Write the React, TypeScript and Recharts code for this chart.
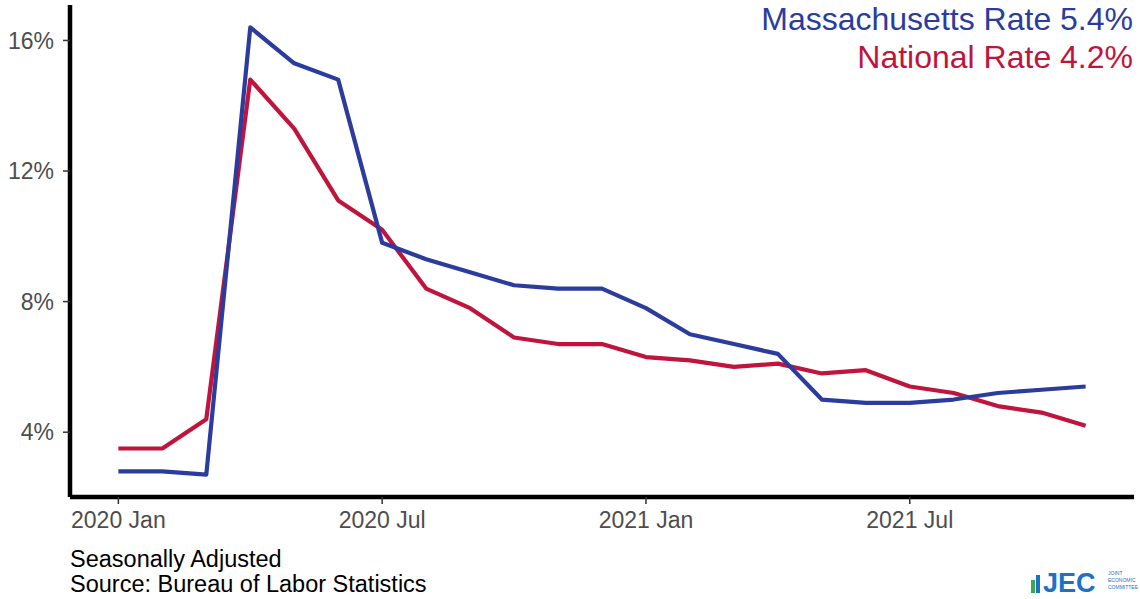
import { LineChart, Line, XAxis, YAxis } from "recharts";

const MONTHS = [
  "2020 Jan", "2020 Feb", "2020 Mar", "2020 Apr", "2020 May", "2020 Jun",
  "2020 Jul", "2020 Aug", "2020 Sep", "2020 Oct", "2020 Nov", "2020 Dec",
  "2021 Jan", "2021 Feb", "2021 Mar", "2021 Apr", "2021 May", "2021 Jun",
  "2021 Jul", "2021 Aug", "2021 Sep", "2021 Oct", "2021 Nov",
];

const MASSACHUSETTS = [
  2.8, 2.8, 2.7, 16.4, 15.3, 14.8, 9.8, 9.3, 8.9, 8.5, 8.4, 8.4,
  7.8, 7.0, 6.7, 6.4, 5.0, 4.9, 4.9, 5.0, 5.2, 5.3, 5.4,
];

const NATIONAL = [
  3.5, 3.5, 4.4, 14.8, 13.3, 11.1, 10.2, 8.4, 7.8, 6.9, 6.7, 6.7,
  6.3, 6.2, 6.0, 6.1, 5.8, 5.9, 5.4, 5.2, 4.8, 4.6, 4.2,
];

const X_TICKS = [0, 6, 12, 18];
const X_TICK_LABELS = ["2020 Jan", "2020 Jul", "2021 Jan", "2021 Jul"];
const Y_TICKS = [4, 8, 12, 16];

const BLUE = "#2B3C9E";
const RED = "#C0143C";
const FONT = "'Liberation Sans', Arial, sans-serif";

const data = MONTHS.map((m, i) => ({
  i,
  month: m,
  ma: MASSACHUSETTS[i],
  us: NATIONAL[i],
}));

const tickStyle = { fill: "#4D4D4D", fontSize: 23, fontFamily: FONT };

export default function App() {
  return (
    <div style={{ position: "absolute", left: 0, top: 0, width: 1140, height: 599, background: "#fff", overflow: "hidden" }}>
      <LineChart width={1140} height={599} data={data} margin={{ top: 5, right: 6, left: 0, bottom: 62 }}>
        <XAxis
          dataKey="i"
          type="number"
          domain={[-1.1, 23.1]}
          ticks={X_TICKS}
          tickFormatter={(v) => X_TICK_LABELS[X_TICKS.indexOf(v)] ?? ""}
          allowDataOverflow
          height={40}
          axisLine={{ stroke: "#000", strokeWidth: 4.5 }}
          tickLine={{ stroke: "#333", strokeWidth: 1.5 }}
          tickSize={7}
          tickMargin={8}
          tick={tickStyle}
        />
        <YAxis
          type="number"
          domain={[2.015, 17.085]}
          ticks={Y_TICKS}
          tickFormatter={(v) => `${v}%`}
          allowDataOverflow
          width={70}
          axisLine={{ stroke: "#000", strokeWidth: 4.5 }}
          tickLine={{ stroke: "#333", strokeWidth: 1.5 }}
          tickSize={7}
          tickMargin={9}
          tick={tickStyle}
        />
        <Line dataKey="us" stroke={RED} strokeWidth={4.2} dot={false} isAnimationActive={false} strokeLinejoin="round" />
        <Line dataKey="ma" stroke={BLUE} strokeWidth={4.2} dot={false} isAnimationActive={false} strokeLinejoin="round" />
      </LineChart>
      <svg width={1140} height={599} style={{ position: "absolute", left: 0, top: 0, pointerEvents: "none" }}>
        <text x={1133} y={30} textAnchor="end" fill={BLUE} fontSize={32} fontFamily={FONT}>
          Massachusetts Rate 5.4%
        </text>
        <text x={1133} y={68} textAnchor="end" fill={RED} fontSize={32} fontFamily={FONT}>
          National Rate 4.2%
        </text>
        <text x={70} y={567} fill="#000" fontSize={23.5} fontFamily={FONT}>
          Seasonally Adjusted
        </text>
        <text x={70} y={592} fill="#000" fontSize={23.5} fontFamily={FONT}>
          Source: Bureau of Labor Statistics
        </text>
        <g>
          <rect x={1031} y={580} width={4} height={13} fill="#3BAA4A" />
          <rect x={1036} y={575} width={4} height={18} fill="#1A73C8" />
          <text x={1043} y={592} fill="#1A73C8" fontSize={27} fontWeight="bold" fontFamily={FONT}>
            JEC
          </text>
          <text x={1108} y={575} fill="#1A73C8" fontSize={5} fontFamily={FONT}>JOINT</text>
          <text x={1108} y={582} fill="#1A73C8" fontSize={5} fontFamily={FONT}>ECONOMIC</text>
          <text x={1108} y={589} fill="#1A73C8" fontSize={5} fontFamily={FONT}>COMMITTEE</text>
        </g>
      </svg>
    </div>
  );
}
